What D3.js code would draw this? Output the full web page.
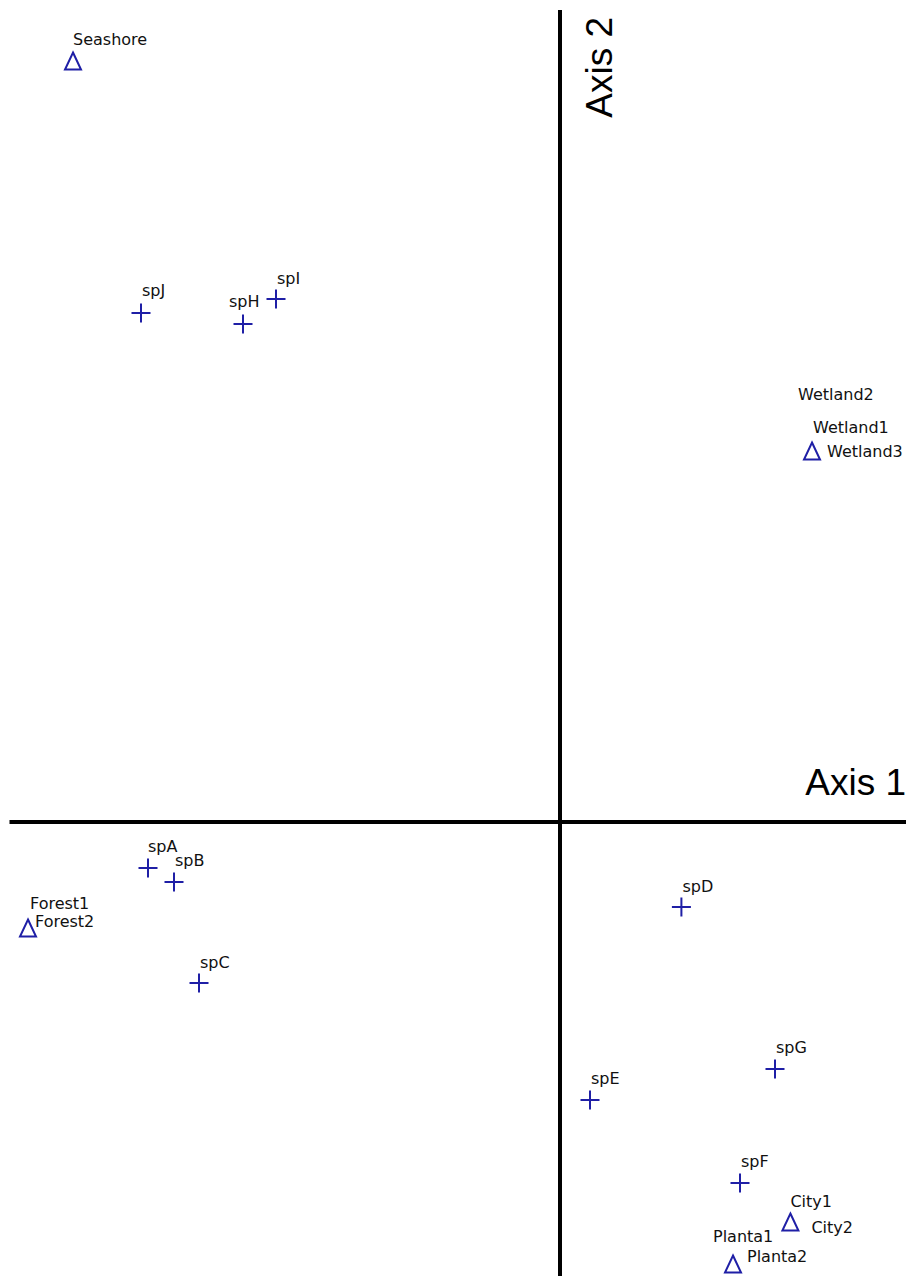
<!DOCTYPE html>
<html>
<head>
<meta charset="utf-8">
<script src="https://cdn.jsdelivr.net/npm/d3@7"></script>
<style>
  html, body { margin: 0; padding: 0; background: #fff; }
  svg { display: block; }
  .lbl { font-family: "DejaVu Sans", sans-serif; font-size: 16px; fill: #111; }
  .axis-title { font-family: "Liberation Sans", Arial, sans-serif; font-size: 37px; fill: #000; }
</style>
</head>
<body>
<svg id="chart" width="906" height="1276"></svg>
<script>
// Correspondence analysis biplot: site scores (triangles) and species scores (crosses)

// Sites
const siteNames = ["Seashore", "Wetland1", "Wetland2", "Wetland3", "Forest1", "Forest2",
                   "City1", "City2", "Planta1", "Planta2"];
const siteAxis1 = [-2.435, 1.26, 1.26, 1.26, -2.66, -2.66, 1.152, 1.152, 0.865, 0.865];
const siteAxis2 = [ 3.805, 1.855, 1.855, 1.855, -0.53, -0.53, -2.00, -2.00, -2.21, -2.21];

// Species
const speciesNames = ["spA", "spB", "spC", "spD", "spE", "spF", "spG", "spH", "spI", "spJ"];
const speciesAxis1 = [-2.06, -1.93, -1.805, 0.607, 0.15, 0.90, 1.075, -1.585, -1.42, -2.095];
const speciesAxis2 = [-0.23, -0.30, -0.805, -0.425, -1.39, -1.805, -1.235, 2.49, 2.615, 2.545];

// Label placement offsets (px) from each mark, so coincident sites stay readable
const siteLabelDx = [0, 1, -14, 15, 2, 7, 0, 21, -20, 14];
const siteLabelDy = [-16, -18, -51, 6, -19, -1, -15, 11, -22, -2];
const speciesLabelDx = [0, 1, 1, 1, 1, 1, 1, -14, 1, 1];
const speciesLabelDy = [-16, -16, -15, -15, -16, -16, -16, -17, -15, -17];

const axisTitles = ["Axis 1", "Axis 2"];

const W = 906, H = 1276;
const svg = d3.select("#chart");

const x = d3.scaleLinear().domain([-2.8, 1.73]).range([0, W]);
const y = d3.scaleLinear().domain([4.11, -2.27]).range([0, H]);

const markColor = "#1f1fa6";

// Axis lines through the origin
svg.append("line")
  .attr("x1", 9.5).attr("x2", W)
  .attr("y1", y(0)).attr("y2", y(0))
  .attr("stroke", "#000").attr("stroke-width", 4);
svg.append("line")
  .attr("x1", x(0)).attr("x2", x(0))
  .attr("y1", 10).attr("y2", H)
  .attr("stroke", "#000").attr("stroke-width", 4);

svg.append("text")
  .attr("class", "axis-title")
  .attr("x", 906).attr("y", y(0) - 27)
  .attr("text-anchor", "end")
  .text(axisTitles[0]);
svg.append("text")
  .attr("class", "axis-title")
  .attr("transform", `translate(${x(0) + 52},17) rotate(-90)`)
  .attr("text-anchor", "end")
  .text(axisTitles[1]);

// Species crosses
const sp = speciesNames.map((n, i) => ({
  name: n, a1: speciesAxis1[i], a2: speciesAxis2[i],
  dx: speciesLabelDx[i], dy: speciesLabelDy[i]
}));
const half = 9.5;
const spG = svg.append("g");
spG.selectAll("path.cross").data(sp).join("path")
  .attr("class", "cross")
  .attr("d", d => {
    const cx = x(d.a1), cy = y(d.a2);
    return `M${cx - half},${cy}H${cx + half}M${cx},${cy - half}V${cy + half}`;
  })
  .attr("stroke", markColor).attr("stroke-width", 2).attr("fill", "none");
spG.selectAll("text").data(sp).join("text")
  .attr("class", "lbl")
  .attr("x", d => x(d.a1) + d.dx)
  .attr("y", d => y(d.a2) + d.dy)
  .text(d => d.name);

// Site triangles (coincident sites share one marker)
const sites = siteNames.map((n, i) => ({
  name: n, a1: siteAxis1[i], a2: siteAxis2[i],
  dx: siteLabelDx[i], dy: siteLabelDy[i]
}));
const uniqueSites = Array.from(
  d3.group(sites, d => d.a1 + "," + d.a2).values(), g => g[0]);
const tw = 16, th = 17;
const stG = svg.append("g");
stG.selectAll("path.tri").data(uniqueSites).join("path")
  .attr("class", "tri")
  .attr("d", d => {
    const cx = x(d.a1), cy = y(d.a2);
    return `M${cx},${cy - th / 2}L${cx + tw / 2},${cy + th / 2}L${cx - tw / 2},${cy + th / 2}Z`;
  })
  .attr("stroke", markColor).attr("stroke-width", 2)
  .attr("stroke-linejoin", "miter").attr("fill", "none");
stG.selectAll("text").data(sites).join("text")
  .attr("class", "lbl")
  .attr("x", d => x(d.a1) + d.dx)
  .attr("y", d => y(d.a2) + d.dy)
  .text(d => d.name);
</script>
</body>
</html>
